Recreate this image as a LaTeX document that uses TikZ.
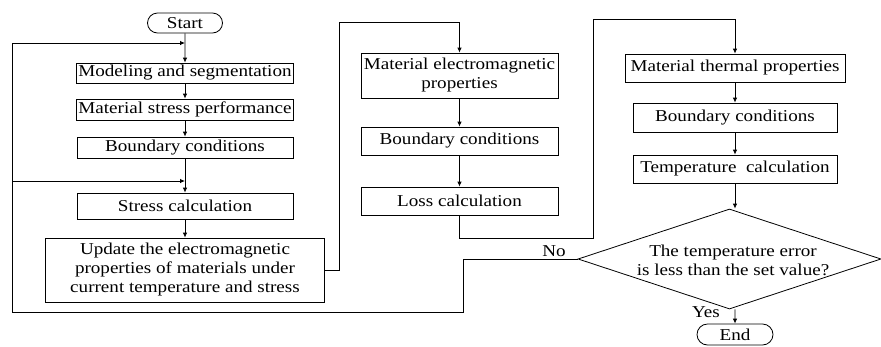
\documentclass[tikz,border=0pt]{standalone}
\usepackage{fontspec}
\setmainfont{Liberation Serif}[FakeStretch=1.15]
\usetikzlibrary{shapes.geometric, shapes.misc, arrows.meta}

\begin{document}
\begin{tikzpicture}
  [x=1pt, y=-1pt, font=\fontsize{16.6}{19}\selectfont]
  \tikzstyle{box} = [draw=black, line width=0.8pt, inner sep=0pt, align=center];
  \tikzstyle{term_box} = [box, rounded rectangle, minimum width=75pt, minimum height=20pt];
  \tikzstyle{check_box} = [box, diamond, minimum width=303pt, minimum height=100pt];
  \tikzstyle{flow} = [draw=black, line width=0.8pt, -{Latex[length=5pt, width=4.5pt]}];

  \useasboundingbox (0, 0) rectangle (881, 346);

  \node[term_box] (start) at (185, 23) {Start};
  \node[box, minimum width=217pt, minimum height=20pt] (model)  at (185, 73)    {Modeling and segmentation};
  \node[box, minimum width=217pt, minimum height=21pt] (stress) at (185, 109.5) {Material stress performance};
  \node[box, minimum width=216pt, minimum height=21pt] (bound_a) at (185, 147.5) {Boundary conditions};
  \node[box, minimum width=216pt, minimum height=26pt] (calc_a) at (185, 206)   {Stress calculation};
  \node[box, minimum width=279pt, minimum height=64pt] (update) at (185, 270)
    {Update the electromagnetic\\properties of materials under\\current temperature and stress};

  \node[box, minimum width=197pt, minimum height=45pt] (emag)    at (459.5, 75.5) {Material electromagnetic\\properties};
  \node[box, minimum width=197pt, minimum height=28pt] (bound_b) at (459.5, 141)  {Boundary conditions};
  \node[box, minimum width=197pt, minimum height=28pt] (loss)    at (459.5, 201)  {Loss calculation};

  \node[box, minimum width=220pt, minimum height=28pt] (thermal) at (735, 68)    {Material thermal properties};
  \node[box, minimum width=204pt, minimum height=29pt] (bound_c) at (735, 117.5) {Boundary conditions};
  \node[box, minimum width=204pt, minimum height=28pt] (calc_b)  at (735, 169)   {Temperature\ \ calculation};
  \node[check_box] (check) at (729.5, 259) {};
  \node[align=center] (check_text) at (733, 260) {The temperature error\\is less than the set value?};
  \node[term_box, minimum width=76pt, minimum height=21pt] (end) at (735, 334.5) {End};

  \node (no_label)  at (554, 251) {No};
  \node (yes_label) at (706, 312) {Yes};

  \coordinate (join_a) at (185, 43);
  \coordinate (join_b) at (185, 181);
  \coordinate (turn_a) at (339, 22);
  \coordinate (turn_b) at (593, 238);
  \coordinate (turn_c) at (593, 19);
  \coordinate (turn_d) at (463, 312);
  \coordinate (corner_a) at (12, 312);
  \coordinate (corner_b) at (12, 43);
  \coordinate (corner_c) at (12, 181);

  \draw[flow] (start) -- (model);
  \draw[flow] (model) -- (stress);
  \draw[flow] (stress) -- (bound_a);
  \draw[flow] (bound_a) -- (calc_a);
  \draw[flow] (calc_a) -- (update);
  \draw[flow] (update.east) -| (turn_a) -| (emag.north);
  \draw[flow] (emag) -- (bound_b);
  \draw[flow] (bound_b) -- (loss);
  \draw[flow] (loss.south) |- (turn_b) -- (turn_c) -| (thermal.north);
  \draw[flow] (thermal) -- (bound_c);
  \draw[flow] (bound_c) -- (calc_b);
  \draw[flow] (calc_b) -- (calc_b |- check.north);
  \draw[flow] (end |- check.south) -- (end);
  \draw[flow] (check.west) -| (turn_d) -- (corner_a) -- (corner_b) -- (join_a);
  \draw[flow] (corner_c) -- (join_b);

\end{tikzpicture}
\end{document}
